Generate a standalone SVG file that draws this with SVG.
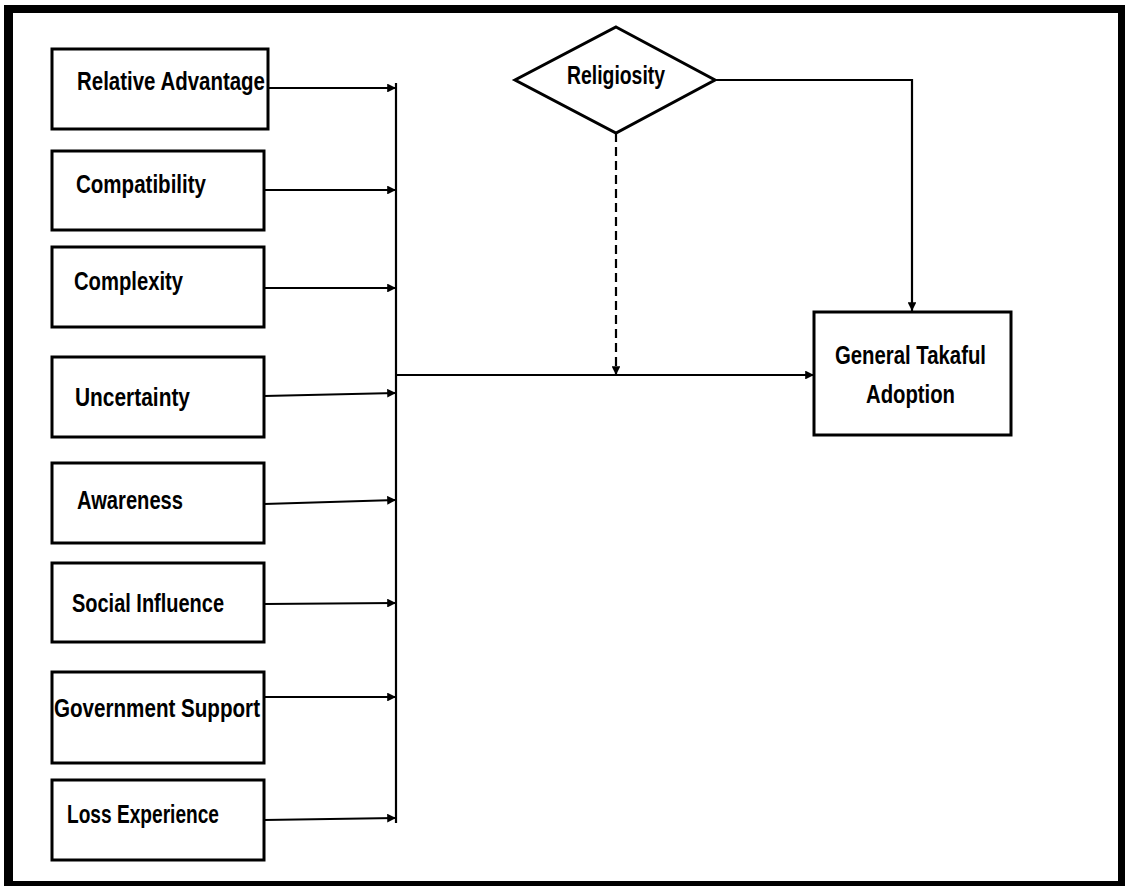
<svg xmlns="http://www.w3.org/2000/svg" width="1125" height="886" viewBox="0 0 1125 886">
<style>
.box{fill:#fff;stroke:#000;stroke-width:3}
.lbl{font-family:"Liberation Sans",Arial,sans-serif;font-weight:bold;font-size:25px;fill:#000}
.ln{fill:none;stroke:#000;stroke-width:2.2}
.dash{fill:none;stroke:#000;stroke-width:2.2;stroke-dasharray:9,5}
</style>
<defs>
<marker id="ah" viewBox="0 0 10 10" refX="10" refY="5" markerWidth="4" markerHeight="4" orient="auto" markerUnits="strokeWidth">
<path d="M0,0 L10,5 L0,10 z" fill="#000"/>
</marker>
</defs>
<rect x="0" y="0" width="1125" height="886" fill="#fff"/>
<g id="frame">
<rect x="4" y="5" width="1121" height="881" fill="#000"/>
<rect x="13" y="13" width="1105" height="868" fill="#fff"/>
</g>
<g id="connectors">
<line class="ln" x1="268" y1="88" x2="396" y2="88" marker-end="url(#ah)"/>
<line class="ln" x1="264" y1="190" x2="396" y2="190" marker-end="url(#ah)"/>
<line class="ln" x1="264" y1="288" x2="396" y2="288" marker-end="url(#ah)"/>
<line class="ln" x1="264" y1="396" x2="396" y2="393" marker-end="url(#ah)"/>
<line class="ln" x1="264" y1="504" x2="396" y2="500" marker-end="url(#ah)"/>
<line class="ln" x1="264" y1="604" x2="396" y2="603" marker-end="url(#ah)"/>
<line class="ln" x1="264" y1="697" x2="396" y2="697" marker-end="url(#ah)"/>
<line class="ln" x1="264" y1="820" x2="396" y2="818" marker-end="url(#ah)"/>
<line class="ln" x1="396" y1="83" x2="396" y2="823"/>
<line class="ln" x1="396" y1="375" x2="814" y2="375" marker-end="url(#ah)"/>
<line class="dash" x1="616" y1="133" x2="616" y2="375" marker-end="url(#ah)"/>
<polyline class="ln" points="715,80 912,80 912,311" marker-end="url(#ah)"/>
</g>
<g id="n-relative-advantage">
<rect class="box" x="52" y="49" width="216" height="80"/>
<text class="lbl" x="77" y="90" textLength="188" lengthAdjust="spacingAndGlyphs">Relative Advantage</text>
</g>
<g id="n-compatibility">
<rect class="box" x="52" y="151" width="212" height="79"/>
<text class="lbl" x="76" y="193" textLength="130" lengthAdjust="spacingAndGlyphs">Compatibility</text>
</g>
<g id="n-complexity">
<rect class="box" x="52" y="247" width="212" height="80"/>
<text class="lbl" x="74" y="290" textLength="109" lengthAdjust="spacingAndGlyphs">Complexity</text>
</g>
<g id="n-uncertainty">
<rect class="box" x="52" y="357" width="212" height="80"/>
<text class="lbl" x="75" y="406" textLength="115" lengthAdjust="spacingAndGlyphs">Uncertainty</text>
</g>
<g id="n-awareness">
<rect class="box" x="52" y="463" width="212" height="80"/>
<text class="lbl" x="77" y="509" textLength="106" lengthAdjust="spacingAndGlyphs">Awareness</text>
</g>
<g id="n-social-influence">
<rect class="box" x="52" y="563" width="212" height="79"/>
<text class="lbl" x="72" y="612" textLength="152" lengthAdjust="spacingAndGlyphs">Social Influence</text>
</g>
<g id="n-government-support">
<rect class="box" x="52" y="672" width="212" height="91"/>
<text class="lbl" x="54" y="717" textLength="206" lengthAdjust="spacingAndGlyphs">Government Support</text>
</g>
<g id="n-loss-experience">
<rect class="box" x="52" y="780" width="212" height="80"/>
<text class="lbl" x="67" y="823" textLength="152" lengthAdjust="spacingAndGlyphs">Loss Experience</text>
</g>
<g id="n-religiosity">
<polygon class="box" points="616,27 715,80 616,133 515,80"/>
<text class="lbl" x="567" y="84" textLength="98" lengthAdjust="spacingAndGlyphs">Religiosity</text>
</g>
<g id="n-general-takaful-adoption">
<rect class="box" x="814" y="312" width="197" height="123"/>
<text class="lbl" x="835" y="364" textLength="151" lengthAdjust="spacingAndGlyphs">General Takaful</text>
<text class="lbl" x="866" y="403" textLength="89" lengthAdjust="spacingAndGlyphs">Adoption</text>
</g>
</svg>
